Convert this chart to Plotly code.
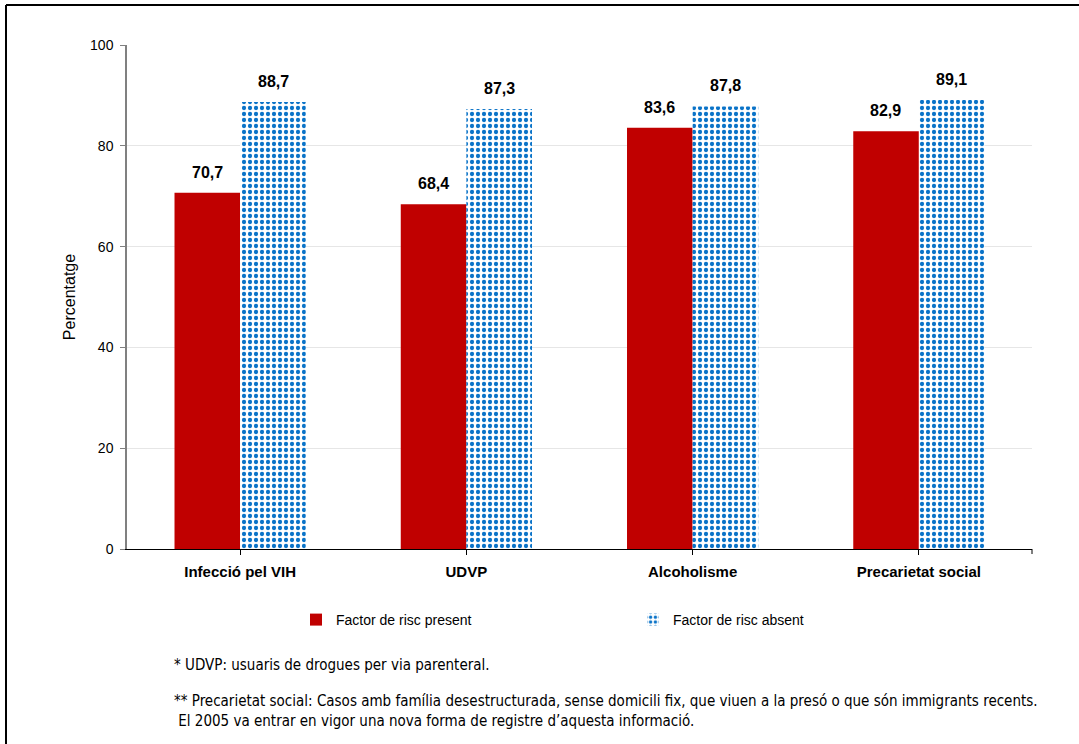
import plotly.graph_objects as go

categories = ["Infecció pel VIH", "UDVP", "Alcoholisme", "Precarietat social"]
present = [70.7, 68.4, 83.6, 82.9]
absent = [88.7, 87.3, 87.8, 89.1]
series_names = ["Factor de risc present", "Factor de risc absent"]
y_ticks = [0, 20, 40, 60, 80, 100]

RED = "#c00000"
BLUE = "#0a73c8"
FONT = "Liberation Sans, Arial, sans-serif"
NARROW = "DejaVu Sans Condensed, Liberation Sans Narrow, Arial, sans-serif"

W, H = 1079, 744
L, R, T, B = 127, 47, 45, 195
pw, ph = W - L - R, H - T - B


def px_x(x):
    return (x - L) / pw


def px_y(y):
    return 1 - (y - T) / ph


fig = go.Figure()
fig.add_trace(go.Bar(
    name=series_names[0], x=categories, y=present,
    marker=dict(color=RED, line=dict(width=0)),
))
fig.add_trace(go.Bar(
    name=series_names[1], x=categories, y=absent,
    marker=dict(color="white", line=dict(width=0),
                pattern=dict(shape=".", fgcolor=BLUE, bgcolor="white",
                             size=6, solidity=0.4, fillmode="replace")),
))

# value labels above each bar
for vals, shift in ((present, -33), (absent, 33)):
    for c, v in zip(categories, vals):
        fig.add_annotation(
            x=c, y=v, xref="x", yref="y", xshift=shift, yshift=10,
            text=f"<b>{v:.1f}</b>".replace(".", ","), showarrow=False,
            yanchor="bottom", font=dict(family=FONT, size=16, color="black"),
        )

# footnotes
fig.add_annotation(
    x=px_x(172), y=px_y(665), xref="paper", yref="paper", showarrow=False,
    text="* UDVP: usuaris de drogues per via parenteral.",
    xanchor="left", yanchor="middle", font=dict(family=NARROW, size=15, color="black"),
)
fig.add_annotation(
    x=px_x(172), y=px_y(711), xref="paper", yref="paper", showarrow=False, align="left",
    text=("** Precarietat social: Casos amb família desestructurada, sense domicili fix, "
          "que viuen a la presó o que són immigrants recents.<br> El 2005 va entrar en vigor "
          "una nova forma de registre d’aquesta informació."),
    xanchor="left", yanchor="middle", font=dict(family=NARROW, size=15, color="black"),
)

# outer chart frame (top and left edges), plus right-end tick of the category axis
fig.add_shape(type="line", xref="paper", yref="paper",
              x0=px_x(6), x1=px_x(W), y0=px_y(5), y1=px_y(5),
              line=dict(color="black", width=2))
fig.add_shape(type="line", xref="paper", yref="paper",
              x0=px_x(6), x1=px_x(6), y0=px_y(5), y1=px_y(H),
              line=dict(color="black", width=2))
fig.add_shape(type="line", xref="paper", yref="paper",
              x0=1, x1=1, y0=0, y1=-5 / ph, line=dict(color="black", width=1))

fig.update_layout(
    width=W, height=H,
    margin=dict(l=L, r=R, t=T, b=B, pad=0),
    paper_bgcolor="white", plot_bgcolor="white",
    barmode="group", bargap=0.42, bargroupgap=0,
    font=dict(family=FONT, size=13, color="black"),
    legend=dict(orientation="h", x=px_x(296), y=px_y(620),
                xanchor="left", yanchor="middle",
                font=dict(family=FONT, size=14, color="black"),
                itemwidth=30, entrywidth=292, entrywidthmode="pixels",
                bgcolor="rgba(0,0,0,0)"),
    xaxis=dict(
        showline=True, linecolor="black", linewidth=1,
        ticks="outside", ticklen=5, tickcolor="black",
        ticklabelstandoff=4,
        tickfont=dict(family=FONT, size=15, color="black"),
        tickprefix="<b>", ticksuffix="</b>",
        showgrid=False,
    ),
    yaxis=dict(
        range=[0, 100], tickvals=y_ticks,
        showline=True, linecolor="#808080", linewidth=1.5,
        ticks="outside", ticklen=5, tickcolor="#808080",
        ticklabelstandoff=4,
        showgrid=True, gridcolor="#e6e6e6", gridwidth=1,
        zeroline=False,
        tickfont=dict(family=FONT, size=14, color="black"),
        title=dict(text="Percentatge", font=dict(family=FONT, size=16), standoff=10),
    ),
)

fig.write_html("out.html")
